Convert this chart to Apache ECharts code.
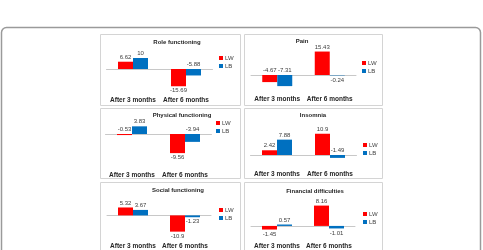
<!DOCTYPE html>
<html>
<head>
<meta charset="utf-8">
<script src="https://cdn.jsdelivr.net/npm/echarts@6/dist/echarts.min.js"></script>
<style>
  html, body { margin: 0; padding: 0; background: #fff; }
  #main { width: 483px; height: 250px; }
</style>
</head>
<body>
<div id="main"></div>
<script>
// data
var categories = ['After 3 months', 'After 6 months'];
var panelTitles = ['Role functioning', 'Pain', 'Physical functioning', 'Insomnia', 'Social functioning', 'Financial difficulties'];
var seriesNames = ['LW', 'LB'];
var lwValues = [
  [6.62, -15.69],
  [-4.67, 15.43],
  [-0.53, -9.56],
  [2.42, 10.9],
  [5.32, -10.9],
  [-1.45, 8.16]
];
var lbValues = [
  [10, -5.88],
  [-7.31, -0.24],
  [3.83, -3.94],
  [7.88, -1.49],
  [3.67, -1.23],
  [0.57, -1.01]
];

// where each value label sits (top = above the bar top / zero line)
var lwLabelPos = [['top', 'bottom'], ['top', 'top'], ['top', 'bottom'], ['top', 'top'], ['top', 'bottom'], ['bottom', 'top']];
var lbLabelPos = [['top', 'top'], ['top', 'bottom'], ['top', 'top'], ['top', 'top'], ['top', 'bottom'], ['top', 'bottom']];

// layout of the six small panels
var layout = [
  { box: [100.5, 34.5, 140, 71], title: [177, 42.5], grid: [106.5, 52.5, 106, 38.5], min: -20, max: 15, labelY: 100, legend: [219, 55] },
  { box: [244.5, 34.5, 138, 71], title: [302, 41], grid: [251, 44.6, 105, 45.6], min: -10, max: 20, labelY: 99, legend: [362, 60] },
  { box: [100.5, 108.5, 140, 70], title: [182, 115], grid: [105.5, 122, 106, 36], min: -12, max: 6, labelY: 175, legend: [216, 120] },
  { box: [244.5, 108.5, 138, 70], title: [313, 115.5], grid: [250.5, 131.6, 106, 31.2], min: -4, max: 12, labelY: 174, legend: [363, 142] },
  { box: [100.5, 182.5, 140, 80], title: [178, 190.5], grid: [107, 200.5, 104, 38.75], min: -15, max: 10, labelY: 248, legend: [219, 207] },
  { box: [244.5, 182.5, 138, 80], title: [315, 191], grid: [251, 201, 104, 36.4], min: -4, max: 10, labelY: 248, legend: [363, 211] }
];

var font = 'Liberation Sans, Arial, sans-serif';
var colors = ['#ff0000', '#0070c0'];

var grids = [], xAxes = [], yAxes = [], series = [], legends = [];
var graphics = [{
  type: 'rect',
  shape: { x: 1.5, y: 27.5, width: 479, height: 260, r: 5 },
  style: { fill: '#fff', stroke: '#9a9a9a', lineWidth: 1.5 },
  z: -10
}];

layout.forEach(function (p, i) {
  graphics.push({
    type: 'rect',
    shape: { x: p.box[0], y: p.box[1], width: p.box[2], height: p.box[3] },
    style: { fill: '#fff', stroke: '#d4d4d4', lineWidth: 1 },
    z: -5
  });
  graphics.push({
    type: 'text',
    x: p.title[0],
    y: p.title[1],
    style: { text: panelTitles[i], align: 'center', verticalAlign: 'middle', font: 'bold 6px ' + font, fill: '#262626' }
  });

  grids.push({ left: p.grid[0], top: p.grid[1], width: p.grid[2], height: p.grid[3] });
  var bottom = p.grid[1] + p.grid[3];

  // zero line axis
  xAxes.push({
    type: 'category',
    gridIndex: i,
    position: 'top',
    data: categories,
    axisLine: { onZero: true, lineStyle: { color: '#c8c8c8', width: 1 } },
    axisTick: { show: false },
    axisLabel: { show: false }
  });
  // category labels at the bottom
  xAxes.push({
    type: 'category',
    gridIndex: i,
    position: 'bottom',
    data: categories,
    axisLine: { show: false },
    axisTick: { show: false },
    axisLabel: {
      interval: 0,
      hideOverlap: false,
      margin: p.labelY - bottom - 3.5,
      fontSize: 6.5,
      fontWeight: 'bold',
      fontFamily: font,
      color: '#262626'
    }
  });
  yAxes.push({
    type: 'value',
    gridIndex: i,
    min: p.min,
    max: p.max,
    show: false,
    splitLine: { show: false }
  });

  [lwValues[i], lbValues[i]].forEach(function (vals, k) {
    var pos = k === 0 ? lwLabelPos[i] : lbLabelPos[i];
    series.push({
      name: seriesNames[k],
      type: 'bar',
      xAxisIndex: i * 2,
      yAxisIndex: i,
      barWidth: 15,
      barGap: '0%',
      itemStyle: { color: colors[k] },
      label: {
        show: true,
        distance: 1.5,
        fontSize: 6,
        fontFamily: font,
        color: '#404040'
      },
      data: vals.map(function (v, j) {
        return { value: v, label: { position: pos[j] } };
      })
    });
  });

  legends.push({
    data: seriesNames,
    orient: 'vertical',
    left: p.legend[0],
    top: p.legend[1],
    padding: 0,
    icon: 'rect',
    itemWidth: 4,
    itemHeight: 4,
    itemGap: 2,
    selectedMode: false,
    textStyle: { fontSize: 6, fontFamily: font, color: '#404040', padding: [0, 0, 0, -3] }
  });
});

var chart = echarts.init(document.getElementById('main'));
chart.setOption({
  animation: false,
  color: colors,
  grid: grids,
  xAxis: xAxes,
  yAxis: yAxes,
  legend: legends,
  graphic: graphics,
  series: series
});
</script>
</body>
</html>
